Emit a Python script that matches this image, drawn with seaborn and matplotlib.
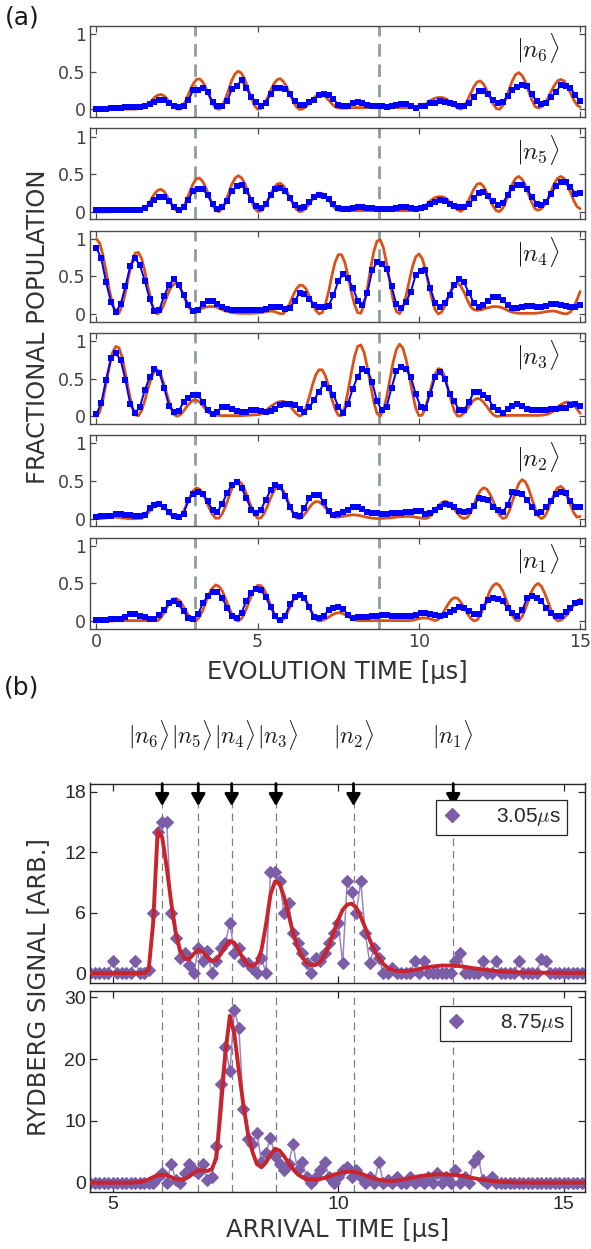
import numpy as np
import matplotlib
matplotlib.use("Agg")
import matplotlib.pyplot as plt
from matplotlib.lines import Line2D
import seaborn as sns

sns.set_theme(style="ticks")
plt.rcParams["font.family"] = ["DejaVu Sans"]
plt.rcParams["mathtext.fontset"] = "cm"

# ---------------------------------------------------------------- time grids
t_meas = np.round(np.arange(101) * 0.15, 2)          # measured, 0 .. 15 us
t_calc = np.round(np.arange(151) * 0.10, 2)          # simulation, 0 .. 15 us
t_arrival = np.round(4.5 + np.arange(111) * 0.10, 2)  # arrival time, 4.5 .. 15.5 us

# ---------------------------------------------------------------- (a) populations
n6_meas = [0.01, 0.01, 0.01, 0.02, 0.02, 0.02, 0.03, 0.03, 0.03, 0.03,
           0.04, 0.07, 0.10, 0.12, 0.12, 0.08, 0.04, 0.03, 0.05, 0.12,
           0.26, 0.26, 0.29, 0.23, 0.10, 0.04, 0.05, 0.11, 0.27, 0.31,
           0.39, 0.28, 0.17, 0.10, 0.05, 0.09, 0.20, 0.28, 0.29, 0.27,
           0.20, 0.11, 0.06, 0.06, 0.10, 0.13, 0.19, 0.20, 0.19, 0.14,
           0.06, 0.04, 0.04, 0.08, 0.10, 0.09, 0.06, 0.05, 0.04, 0.04,
           0.03, 0.04, 0.06, 0.07, 0.07, 0.04, 0.02, 0.04, 0.05, 0.08,
           0.08, 0.11, 0.10, 0.08, 0.07, 0.05, 0.04, 0.08, 0.17, 0.24,
           0.24, 0.20, 0.13, 0.08, 0.10, 0.18, 0.26, 0.30, 0.32, 0.31,
           0.20, 0.11, 0.07, 0.08, 0.17, 0.23, 0.33, 0.31, 0.29, 0.19,
           0.11]
n6_calc = [0.0, 0.0, 0.0, 0.0, 0.0, 0.005, 0.005, 0.005, 0.005, 0.005,
           0.005, 0.005, 0.005, 0.01, 0.02, 0.03, 0.06, 0.11, 0.16, 0.19,
           0.2, 0.18, 0.135, 0.085, 0.035, 0.005, 0.007, 0.058, 0.145, 0.25,
           0.34, 0.40, 0.407, 0.365, 0.28, 0.18, 0.08, 0.017, 0.001, 0.045,
           0.14, 0.265, 0.39, 0.475, 0.51, 0.48, 0.40, 0.275, 0.16, 0.052,
           0.003, 0.012, 0.068, 0.15, 0.25, 0.34, 0.395, 0.41, 0.37, 0.30,
           0.20, 0.11, 0.035, 0.001, 0.008, 0.04, 0.084, 0.134, 0.176, 0.198,
           0.195, 0.17, 0.125, 0.075, 0.035, 0.02, 0.018, 0.02, 0.022, 0.024,
           0.025, 0.025, 0.025, 0.025, 0.025, 0.025, 0.025, 0.025, 0.025, 0.025,
           0.025, 0.025, 0.025, 0.025, 0.025, 0.025, 0.025, 0.025, 0.025, 0.03,
           0.035, 0.045, 0.065, 0.1, 0.13, 0.15, 0.16, 0.16, 0.15, 0.125,
           0.09, 0.05, 0.02, 0.005, 0.037, 0.115, 0.21, 0.30, 0.365, 0.38,
           0.34, 0.26, 0.165, 0.075, 0.013, 0.003, 0.05, 0.15, 0.27, 0.385,
           0.465, 0.49, 0.45, 0.37, 0.245, 0.13, 0.04, 0.02, 0.035, 0.08,
           0.15, 0.24, 0.32, 0.38, 0.40, 0.38, 0.31, 0.22, 0.13, 0.06,
           0.03]

n5_meas = [0.02, 0.02, 0.02, 0.02, 0.03, 0.03, 0.03, 0.03, 0.03, 0.03,
           0.05, 0.10, 0.16, 0.20, 0.20, 0.14, 0.06, 0.03, 0.06, 0.16,
           0.28, 0.30, 0.30, 0.22, 0.10, 0.04, 0.06, 0.14, 0.28, 0.34,
           0.36, 0.28, 0.16, 0.08, 0.05, 0.10, 0.22, 0.30, 0.31, 0.27,
           0.18, 0.09, 0.05, 0.07, 0.13, 0.19, 0.22, 0.21, 0.17, 0.10,
           0.05, 0.04, 0.04, 0.05, 0.06, 0.06, 0.05, 0.05, 0.04, 0.04,
           0.04, 0.04, 0.05, 0.06, 0.06, 0.05, 0.04, 0.05, 0.07, 0.10,
           0.13, 0.15, 0.14, 0.11, 0.08, 0.06, 0.07, 0.10, 0.18, 0.25,
           0.26, 0.21, 0.14, 0.09, 0.12, 0.22, 0.32, 0.36, 0.36, 0.30,
           0.20, 0.11, 0.09, 0.13, 0.24, 0.34, 0.40, 0.40, 0.33, 0.24,
           0.25]
n5_calc = [0.0, 0.0, 0.0, 0.0, 0.0, 0.005, 0.005, 0.005, 0.005, 0.005,
           0.005, 0.005, 0.005, 0.01, 0.025, 0.045, 0.09, 0.165, 0.24, 0.285,
           0.3, 0.27, 0.2, 0.13, 0.05, 0.008, 0.008, 0.064, 0.16, 0.275,
           0.375, 0.44, 0.448, 0.40, 0.31, 0.2, 0.088, 0.019, 0.001, 0.042,
           0.13, 0.25, 0.367, 0.447, 0.48, 0.45, 0.376, 0.26, 0.15, 0.049,
           0.003, 0.011, 0.063, 0.14, 0.23, 0.316, 0.367, 0.38, 0.344, 0.28,
           0.186, 0.1, 0.033, 0.001, 0.01, 0.05, 0.105, 0.168, 0.22, 0.248,
           0.244, 0.21, 0.156, 0.094, 0.044, 0.02, 0.015, 0.015, 0.015, 0.015,
           0.015, 0.015, 0.015, 0.015, 0.015, 0.015, 0.015, 0.015, 0.015, 0.015,
           0.015, 0.015, 0.015, 0.015, 0.015, 0.015, 0.015, 0.015, 0.015, 0.02,
           0.03, 0.05, 0.08, 0.125, 0.16, 0.19, 0.2, 0.2, 0.19, 0.155,
           0.11, 0.06, 0.025, 0.005, 0.037, 0.115, 0.21, 0.30, 0.365, 0.38,
           0.34, 0.26, 0.165, 0.075, 0.013, 0.003, 0.048, 0.144, 0.26, 0.37,
           0.446, 0.47, 0.432, 0.355, 0.235, 0.125, 0.038, 0.02, 0.04, 0.095,
           0.175, 0.28, 0.375, 0.445, 0.47, 0.445, 0.36, 0.26, 0.15, 0.07,
           0.04]

n4_meas = [0.88, 0.74, 0.42, 0.16, 0.03, 0.13, 0.37, 0.64, 0.74, 0.65,
           0.44, 0.20, 0.04, 0.06, 0.24, 0.39, 0.46, 0.39, 0.26, 0.12,
           0.04, 0.06, 0.13, 0.17, 0.18, 0.13, 0.09, 0.07, 0.06, 0.06,
           0.06, 0.06, 0.06, 0.06, 0.06, 0.07, 0.09, 0.10, 0.10, 0.07,
           0.08, 0.18, 0.28, 0.27, 0.20, 0.12, 0.10, 0.10, 0.11, 0.25,
           0.44, 0.53, 0.48, 0.35, 0.18, 0.12, 0.28, 0.58, 0.69, 0.66,
           0.60, 0.37, 0.13, 0.08, 0.16, 0.30, 0.52, 0.57, 0.58, 0.35,
           0.15, 0.09, 0.15, 0.26, 0.39, 0.46, 0.42, 0.28, 0.15, 0.10,
           0.12, 0.17, 0.23, 0.23, 0.19, 0.12, 0.08, 0.08, 0.10, 0.11,
           0.11, 0.10, 0.10, 0.11, 0.13, 0.14, 0.12, 0.11, 0.10, 0.10,
           0.12]
n4_calc = [1.0, 0.943, 0.787, 0.563, 0.324, 0.126, 0.014, 0.014, 0.116, 0.29,
           0.51, 0.69, 0.81, 0.82, 0.74, 0.57, 0.36, 0.17, 0.035, 0.0,
           0.044, 0.135, 0.25, 0.35, 0.40, 0.40, 0.35, 0.25, 0.14, 0.07,
           0.04, 0.05, 0.065, 0.08, 0.093, 0.1, 0.1, 0.095, 0.08, 0.06,
           0.04, 0.03, 0.02, 0.015, 0.012, 0.01, 0.01, 0.01, 0.01, 0.012,
           0.015, 0.02, 0.025, 0.035, 0.04, 0.035, 0.02, 0.005, 0.007, 0.058,
           0.145, 0.25, 0.335, 0.384, 0.38, 0.335, 0.24, 0.137, 0.05, 0.004,
           0.019, 0.13, 0.30, 0.51, 0.69, 0.79, 0.79, 0.69, 0.51, 0.30,
           0.13, 0.019, 0.011, 0.128, 0.34, 0.60, 0.83, 0.97, 0.99, 0.88,
           0.67, 0.42, 0.19, 0.033, 0.005, 0.084, 0.24, 0.44, 0.63, 0.76,
           0.8, 0.74, 0.60, 0.40, 0.21, 0.06, 0.0, 0.025, 0.1, 0.21,
           0.32, 0.39, 0.41, 0.37, 0.29, 0.19, 0.1, 0.06, 0.05, 0.055,
           0.065, 0.08, 0.09, 0.1, 0.1, 0.095, 0.08, 0.06, 0.04, 0.025,
           0.015, 0.01, 0.01, 0.01, 0.01, 0.01, 0.01, 0.015, 0.02, 0.03,
           0.035, 0.04, 0.04, 0.03, 0.015, 0.005, 0.005, 0.03, 0.09, 0.19,
           0.30]

n3_meas = [0.03, 0.18, 0.49, 0.77, 0.84, 0.75, 0.48, 0.16, 0.04, 0.13,
           0.35, 0.52, 0.63, 0.58, 0.38, 0.14, 0.06, 0.07, 0.19, 0.25,
           0.28, 0.28, 0.19, 0.08, 0.03, 0.06, 0.13, 0.13, 0.10, 0.07,
           0.06, 0.06, 0.08, 0.08, 0.07, 0.06, 0.07, 0.10, 0.15, 0.16,
           0.16, 0.15, 0.10, 0.06, 0.12, 0.22, 0.33, 0.43, 0.38, 0.29,
           0.13, 0.05, 0.17, 0.37, 0.53, 0.63, 0.61, 0.46, 0.20, 0.08,
           0.13, 0.38, 0.60, 0.66, 0.63, 0.52, 0.30, 0.13, 0.11, 0.30,
           0.52, 0.59, 0.50, 0.30, 0.20, 0.08, 0.08, 0.19, 0.32, 0.33,
           0.29, 0.24, 0.13, 0.08, 0.04, 0.10, 0.14, 0.17, 0.14, 0.10,
           0.08, 0.08, 0.09, 0.09, 0.10, 0.10, 0.11, 0.11, 0.15, 0.17,
           0.14]
n3_calc = [0.0, 0.056, 0.22, 0.44, 0.66, 0.85, 0.93, 0.91, 0.78, 0.57,
           0.34, 0.14, 0.02, 0.007, 0.078, 0.21, 0.37, 0.51, 0.60, 0.62,
           0.55, 0.42, 0.27, 0.13, 0.026, 0.0, 0.022, 0.07, 0.13, 0.18,
           0.215, 0.217, 0.19, 0.14, 0.085, 0.045, 0.02, 0.015, 0.012, 0.01,
           0.01, 0.01, 0.01, 0.01, 0.01, 0.01, 0.012, 0.015, 0.018, 0.02,
           0.022, 0.03, 0.06, 0.095, 0.13, 0.16, 0.185, 0.198, 0.2, 0.18,
           0.14, 0.085, 0.035, 0.003, 0.026, 0.12, 0.26, 0.42, 0.55, 0.62,
           0.62, 0.54, 0.40, 0.23, 0.10, 0.014, 0.01, 0.12, 0.33, 0.57,
           0.79, 0.93, 0.95, 0.85, 0.65, 0.42, 0.19, 0.04, 0.002, 0.083,
           0.26, 0.49, 0.72, 0.89, 0.96, 0.91, 0.76, 0.54, 0.31, 0.11,
           0.01, 0.016, 0.11, 0.26, 0.42, 0.56, 0.635, 0.62, 0.53, 0.37,
           0.21, 0.072, 0.004, 0.008, 0.045, 0.10, 0.165, 0.215, 0.24, 0.23,
           0.19, 0.135, 0.075, 0.024, 0.001, 0.005, 0.01, 0.012, 0.013, 0.013,
           0.013, 0.013, 0.013, 0.013, 0.013, 0.013, 0.013, 0.013, 0.015, 0.02,
           0.03, 0.05, 0.08, 0.12, 0.155, 0.18, 0.19, 0.185, 0.15, 0.1,
           0.04]

n2_meas = [0.02, 0.03, 0.03, 0.04, 0.06, 0.06, 0.05, 0.05, 0.04, 0.03,
           0.05, 0.14, 0.18, 0.19, 0.16, 0.09, 0.03, 0.02, 0.06, 0.25,
           0.33, 0.36, 0.33, 0.23, 0.11, 0.09, 0.20, 0.34, 0.45, 0.49,
           0.41, 0.27, 0.12, 0.08, 0.12, 0.25, 0.38, 0.45, 0.42, 0.30,
           0.15, 0.05, 0.04, 0.14, 0.27, 0.32, 0.31, 0.22, 0.10, 0.05,
           0.06, 0.09, 0.12, 0.15, 0.16, 0.13, 0.09, 0.07, 0.07, 0.06,
           0.06, 0.07, 0.08, 0.08, 0.09, 0.09, 0.10, 0.10, 0.06, 0.07,
           0.11, 0.16, 0.19, 0.18, 0.16, 0.10, 0.09, 0.10, 0.17, 0.27,
           0.26, 0.25, 0.16, 0.11, 0.09, 0.18, 0.35, 0.34, 0.33, 0.25,
           0.16, 0.08, 0.09, 0.16, 0.23, 0.33, 0.36, 0.34, 0.23, 0.16,
           0.15]
n2_calc = [0.0, 0.0, 0.005, 0.01, 0.015, 0.02, 0.02, 0.015, 0.01, 0.005,
           0.0, 0.0, 0.0, 0.005, 0.004, 0.03, 0.075, 0.125, 0.17, 0.19,
           0.18, 0.15, 0.1, 0.053, 0.014, 0.0, 0.025, 0.095, 0.19, 0.29,
           0.37, 0.41, 0.39, 0.34, 0.24, 0.14, 0.055, 0.006, 0.007, 0.065,
           0.16, 0.28, 0.4, 0.47, 0.5, 0.47, 0.38, 0.27, 0.16, 0.055,
           0.005, 0.01, 0.07, 0.165, 0.275, 0.37, 0.42, 0.42, 0.37, 0.275,
           0.165, 0.07, 0.01, 0.003, 0.03, 0.083, 0.145, 0.2, 0.227, 0.225,
           0.195, 0.145, 0.09, 0.04, 0.02, 0.022, 0.028, 0.036, 0.044, 0.05,
           0.05, 0.046, 0.038, 0.028, 0.018, 0.01, 0.004, 0.002, 0.003, 0.005,
           0.008, 0.012, 0.017, 0.022, 0.026, 0.029, 0.03, 0.03, 0.027, 0.02,
           0.012, 0.005, 0.002, 0.015, 0.057, 0.112, 0.17, 0.21, 0.23, 0.22,
           0.18, 0.125, 0.067, 0.02, 0.001, 0.017, 0.083, 0.18, 0.285, 0.37,
           0.41, 0.395, 0.33, 0.235, 0.13, 0.045, 0.002, 0.018, 0.1, 0.23,
           0.36, 0.47, 0.52, 0.49, 0.40, 0.27, 0.14, 0.036, 0.0, 0.03,
           0.115, 0.23, 0.335, 0.41, 0.43, 0.39, 0.29, 0.18, 0.08, 0.02,
           0.03]

n1_meas = [0.01, 0.01, 0.01, 0.02, 0.02, 0.03, 0.05, 0.09, 0.09, 0.07,
           0.05, 0.03, 0.03, 0.08, 0.14, 0.24, 0.27, 0.22, 0.13, 0.04,
           0.03, 0.09, 0.24, 0.33, 0.38, 0.39, 0.31, 0.17, 0.07, 0.04,
           0.11, 0.27, 0.37, 0.43, 0.41, 0.32, 0.18, 0.07, 0.01, 0.07,
           0.22, 0.32, 0.34, 0.30, 0.18, 0.05, 0.04, 0.07, 0.15, 0.17,
           0.18, 0.16, 0.08, 0.04, 0.05, 0.05, 0.05, 0.06, 0.07, 0.08,
           0.08, 0.07, 0.07, 0.06, 0.07, 0.07, 0.08, 0.10, 0.10, 0.09,
           0.08, 0.06, 0.08, 0.12, 0.15, 0.18, 0.17, 0.13, 0.09, 0.09,
           0.18, 0.28, 0.30, 0.29, 0.26, 0.17, 0.10, 0.07, 0.14, 0.30,
           0.33, 0.31, 0.26, 0.17, 0.11, 0.07, 0.07, 0.12, 0.17, 0.24,
           0.25]
n1_calc = [0.0, 0.0, 0.0, 0.0, 0.0, 0.0, 0.005, 0.005, 0.005, 0.005,
           0.005, 0.005, 0.005, 0.005, 0.005, 0.005, 0.005, 0.005, 0.005, 0.005,
           0.044, 0.11, 0.19, 0.26, 0.295, 0.295, 0.26, 0.19, 0.11, 0.044,
           0.005, 0.006, 0.058, 0.145, 0.26, 0.365, 0.44, 0.48, 0.46, 0.40,
           0.30, 0.19, 0.09, 0.02, 0.0, 0.033, 0.11, 0.22, 0.33, 0.43,
           0.475, 0.47, 0.42, 0.32, 0.21, 0.105, 0.027, 0.0, 0.024, 0.09,
           0.18, 0.27, 0.335, 0.36, 0.34, 0.275, 0.185, 0.1, 0.029, 0.0,
           0.007, 0.025, 0.05, 0.08, 0.1, 0.11, 0.105, 0.085, 0.06, 0.035,
           0.015, 0.005, 0.005, 0.005, 0.005, 0.005, 0.005, 0.005, 0.005, 0.005,
           0.005, 0.005, 0.005, 0.005, 0.005, 0.005, 0.005, 0.005, 0.01, 0.02,
           0.03, 0.04, 0.04, 0.035, 0.02, 0.005, 0.02, 0.074, 0.145, 0.22,
           0.28, 0.31, 0.3, 0.25, 0.18, 0.1, 0.037, 0.003, 0.01, 0.07,
           0.17, 0.29, 0.4, 0.47, 0.5, 0.47, 0.4, 0.29, 0.17, 0.07,
           0.01, 0.005, 0.06, 0.16, 0.28, 0.4, 0.47, 0.5, 0.46, 0.37,
           0.26, 0.14, 0.04, 0.0, 0.01, 0.04, 0.09, 0.15, 0.21, 0.26,
           0.29]

state_names = [r"$|n_6\rangle$", r"$|n_5\rangle$", r"$|n_4\rangle$",
               r"$|n_3\rangle$", r"$|n_2\rangle$", r"$|n_1\rangle$"]
pulse_times = [3.05, 8.75]

# ---------------------------------------------------------------- (b) arrival-time spectra
signal_305 = [0, 0, 0, 0, 0, 1.2, 0, 0, 0, 0,
              1.2, 0, 0, 0.3, 6, 14, 15, 15, 6, 3.5,
              1.5, 2, 0.8, 0, 2.5, 1.2, 2.2, 0, 1.2, 2.5,
              3, 5, 2, 2.5, 1.2, 1, 0.5, 0, 1.5, 0,
              10, 10, 9.1, 6, 7, 4, 3, 2, 1, 0,
              1.5, 1.2, 2, 3, 4, 5, 1, 9.1, 8.1, 6,
              9.1, 4, 1, 2.5, 1.5, 0, 0, 0.5, 0, 0,
              0, 0, 1.2, 0, 1.2, 0, 0, 0, 0, 0,
              0, 1.2, 2, 0, 0, 0, 0, 1.2, 0, 0,
              1.2, 0, 0, 0, 0, 1.2, 0, 0, 0, 0,
              1.4, 1.2, 0, 0, 0, 0, 0, 0, 0, 0,
              0]
fit_305 = [0, 0, 0, 0, 0, 0, 0, 0, 0, 0,
           0, 0, 0, 0.3, 5, 14.2, 13.5, 10.5, 7, 4,
           2.2, 1.4, 1.4, 1.9, 2.3, 2.1, 1.6, 1.2, 1.3, 1.9,
           2.7, 3.2, 3.0, 2.2, 1.4, 0.8, 0.7, 1.0, 2.3, 4.8,
           7.8, 9.1, 8.9, 7.6, 5.8, 4.0, 2.6, 1.6, 1.0, 0.8,
           0.8, 1.1, 1.8, 2.8, 4.0, 5.3, 6.3, 6.8, 6.9, 6.5,
           5.6, 4.5, 3.3, 2.3, 1.5, 0.9, 0.5, 0.3, 0.2, 0.2,
           0.2, 0.25, 0.3, 0.4, 0.5, 0.6, 0.65, 0.7, 0.75, 0.75,
           0.75, 0.72, 0.68, 0.62, 0.55, 0.48, 0.42, 0.36, 0.3, 0.25,
           0.2, 0.16, 0.13, 0.1, 0.08, 0.06, 0.05, 0.05, 0.04, 0.04,
           0.04, 0.03, 0.03, 0.03, 0.03, 0.02, 0.02, 0.02, 0.02, 0.02,
           0.02]
signal_875 = [0, 0, 0, 0, 0, 0, 0, 0, 0, 0,
              0, 0, 0, 0, 0, 1, 1.5, 0, 3, 0.5,
              0, 1.5, 3, 2, 1.5, 3, 0.5, 1, 6, 16,
              22, 18, 28, 25, 12, 7, 6.2, 8, 3.4, 4.8,
              7.3, 4.3, 3, 2, 3, 6.2, 2, 3.4, 1, 0,
              1, 2, 3.4, 1, 0, 1, 2, 2.5, 1, 2,
              1, 0, 1, 0, 3.4, 0, 0.5, 0, 1, 0,
              0, 1, 0, 0.5, 0, 1, 0, 1.5, 0, 1,
              0, 2, 0, 1, 0, 3.4, 4.3, 0.5, 0, 1,
              0, 0, 0, 0, 0, 0, 0, 0, 0, 0,
              0, 0, 0, 0, 0, 0, 0, 0, 0, 0,
              0]
fit_875 = [0, 0, 0, 0, 0, 0, 0, 0, 0, 0.02,
           0.05, 0.1, 0.25, 0.55, 0.9, 1.2, 1.3, 1.2, 0.9, 0.6,
           0.5, 0.6, 1.0, 1.6, 2.0, 2.0, 1.9, 2.2, 4.0, 12,
           21, 27, 24, 18, 12.5, 8, 5, 3, 2.5, 3.3,
           4.5, 5.5, 5.2, 4.3, 3.2, 2.2, 1.4, 0.9, 0.6, 0.5,
           0.5, 0.6, 0.8, 1.0, 1.3, 1.5, 1.7, 1.8, 1.8, 1.7,
           1.5, 1.2, 0.9, 0.7, 0.5, 0.35, 0.3, 0.3, 0.35, 0.45,
           0.6, 0.75, 0.9, 1.05, 1.15, 1.25, 1.3, 1.35, 1.35, 1.35,
           1.3, 1.25, 1.15, 1.05, 0.9, 0.75, 0.6, 0.5, 0.4, 0.3,
           0.22, 0.15, 0.1, 0.07, 0.05, 0.04, 0.03, 0.03, 0.02, 0.02,
           0.02, 0.02, 0.02, 0.02, 0.02, 0.02, 0.02, 0.02, 0.02, 0.02,
           0.02]

level_times = [6.10, 6.90, 7.64, 8.62, 10.34, 12.55]
level_names = [r"$|n_6\rangle$", r"$|n_5\rangle$", r"$|n_4\rangle$",
               r"$|n_3\rangle$", r"$|n_2\rangle$", r"$|n_1\rangle$"]
level_label_x = [5.81, 6.76, 7.71, 8.66, 10.35, 12.55]
legend_names = [r"3.05$\mu$s", r"8.75$\mu$s"]

# ---------------------------------------------------------------- styling
BLUE = "#0000FF"
ORANGE = "#D95319"
GUIDE = "#8E9E9A"
PURPLE = "#7B5EA7"
PURPLE_LINE = "#9A85C4"
RED = "#C9232B"
FRAME_A = "#4A4A4A"
FRAME_B = "#262626"

W, H, DPI = 591, 1249, 100
fig = plt.figure(figsize=(W / DPI, H / DPI), dpi=DPI)
fig.patch.set_facecolor("white")


def add_axes_px(left, top, right, bottom):
    return fig.add_axes([left / W, 1 - bottom / H, (right - left) / W, (bottom - top) / H])


# ---------------------------------------------------------------- panel (a)
panels = [(n6_meas, n6_calc), (n5_meas, n5_calc), (n4_meas, n4_calc),
          (n3_meas, n3_calc), (n2_meas, n2_calc), (n1_meas, n1_calc)]

for i, ((meas, calc), name) in enumerate(zip(panels, state_names)):
    top = 26 + i * 102.3
    ax = add_axes_px(90, top, 585, top + 91)
    ax.set_facecolor("white")
    for tp in pulse_times:
        ax.axvline(tp, color=GUIDE, lw=2.0, ls=(0, (4.5, 2.8)), zorder=1)
    sns.lineplot(x=t_calc, y=calc, ax=ax, color=ORANGE, lw=2.0,
                 estimator=None, sort=False, zorder=2)
    sns.lineplot(x=t_meas, y=meas, ax=ax, color=BLUE, lw=1.4, marker="s",
                 markersize=4.2, markeredgewidth=0, estimator=None, sort=False, zorder=3)
    ax.set_xlim(-0.2, 15.15)
    ax.set_ylim(-0.1, 1.11)
    ax.set_xticks([0, 5, 10, 15])
    ax.set_yticks([0, 0.5, 1])
    ax.set_yticklabels(["0", "0.5", "1"])
    ax.set_xlabel("")
    ax.set_ylabel("")
    ax.tick_params(axis="both", direction="in", top=True, right=True, length=4.5,
                   width=0.9, color=FRAME_A, labelcolor="#404040", labelsize=12.5, pad=3)
    if i < 5:
        ax.tick_params(axis="x", labelbottom=False)
    for s in ax.spines.values():
        s.set_color(FRAME_A)
        s.set_linewidth(1.0)
    ax.text(0.905, 0.76, name, transform=ax.transAxes, fontsize=18,
            ha="center", va="center", color="#1A1A1A")

fig.text(337.5 / W, 1 - 672 / H, "EVOLUTION TIME [µs]", fontsize=17.5,
         ha="center", va="center", color="#333333")
fig.text(38 / W, 1 - 327 / H, "FRACTIONAL POPULATION", fontsize=17.5,
         rotation=90, ha="center", va="center", color="#333333")
fig.text(22 / W, 1 - 18 / H, "(a)", fontsize=18, ha="center", va="center", color="#1A1A1A")

# ---------------------------------------------------------------- panel (b)
ax_b1 = add_axes_px(90, 783.5, 585, 982.7)
ax_b2 = add_axes_px(90, 991, 585, 1192)
b_specs = [
    (ax_b1, signal_305, fit_305, (-0.96, 18.84), [0, 6, 12, 18], legend_names[0],
     (0.9636, 0.917)),
    (ax_b2, signal_875, fit_875, (-1.5, 31.0), [0, 10, 20, 30], legend_names[1],
     (0.9717, 0.925)),
]

for j, (ax, sig, fit, ylim, yt, tag, anchor) in enumerate(b_specs):
    ax.set_facecolor("white")
    for tv in level_times:
        ax.axvline(tv, color="#7F7F7F", lw=0.9, ls=(0, (6, 4)), zorder=1)
    sns.lineplot(x=t_arrival, y=sig, ax=ax, color=PURPLE_LINE, lw=1.1, marker="D",
                 markersize=6, markerfacecolor=PURPLE, markeredgecolor=PURPLE,
                 estimator=None, sort=False, zorder=2)
    sns.lineplot(x=t_arrival, y=fit, ax=ax, color=RED, lw=2.8,
                 estimator=None, sort=False, zorder=3)
    ax.set_xlim(4.5, 15.47)
    ax.set_ylim(*ylim)
    ax.set_xticks([5, 10, 15])
    ax.set_yticks(yt)
    ax.set_xlabel("")
    ax.set_ylabel("")
    ax.tick_params(axis="both", direction="in", top=True, right=True, length=5,
                   width=0.9, color=FRAME_B, labelcolor=FRAME_B, labelsize=14, pad=3)
    if j == 0:
        ax.tick_params(axis="x", labelbottom=False)
    for lbl in ax.get_xticklabels() + ax.get_yticklabels():
        lbl.set_fontfamily("Liberation Sans")
    for s in ax.spines.values():
        s.set_color(FRAME_B)
        s.set_linewidth(1.0)
    handle = Line2D([], [], ls="none", marker="D", markersize=7, color=PURPLE)
    leg = ax.legend([handle], [tag], loc="upper right", bbox_to_anchor=anchor,
                    borderaxespad=0, frameon=True, fancybox=False, framealpha=1,
                    edgecolor=FRAME_B, handlelength=1.0, handletextpad=1.6,
                    borderpad=0.3, prop={"family": "Liberation Sans", "size": 15})
    leg.get_frame().set_linewidth(0.9)

for tv in level_times:
    ax_b1.annotate("", xy=(tv, 16.6), xytext=(tv, 18.84),
                   arrowprops=dict(arrowstyle="-|>,head_length=0.55,head_width=0.32",
                                   color="black", lw=2, mutation_scale=13,
                                   shrinkA=0, shrinkB=0),
                   annotation_clip=False, zorder=5)

for lx, name in zip(level_label_x, level_names):
    fig.text((90 + (lx - 4.5) * 45.1) / W, 1 - 735 / H, name, fontsize=17,
             ha="center", va="center", color="#1A1A1A")

fig.text(337.5 / W, 1 - 1230 / H, "ARRIVAL TIME [µs]", fontsize=17.5,
         ha="center", va="center", color="#333333")
fig.text(38 / W, 1 - 987 / H, "RYDBERG SIGNAL [ARB.]", fontsize=17.5,
         rotation=90, ha="center", va="center", color="#333333")
fig.text(22 / W, 1 - 688 / H, "(b)", fontsize=18, ha="center", va="center", color="#1A1A1A")

fig.savefig("out.png", dpi=DPI, facecolor="white")
